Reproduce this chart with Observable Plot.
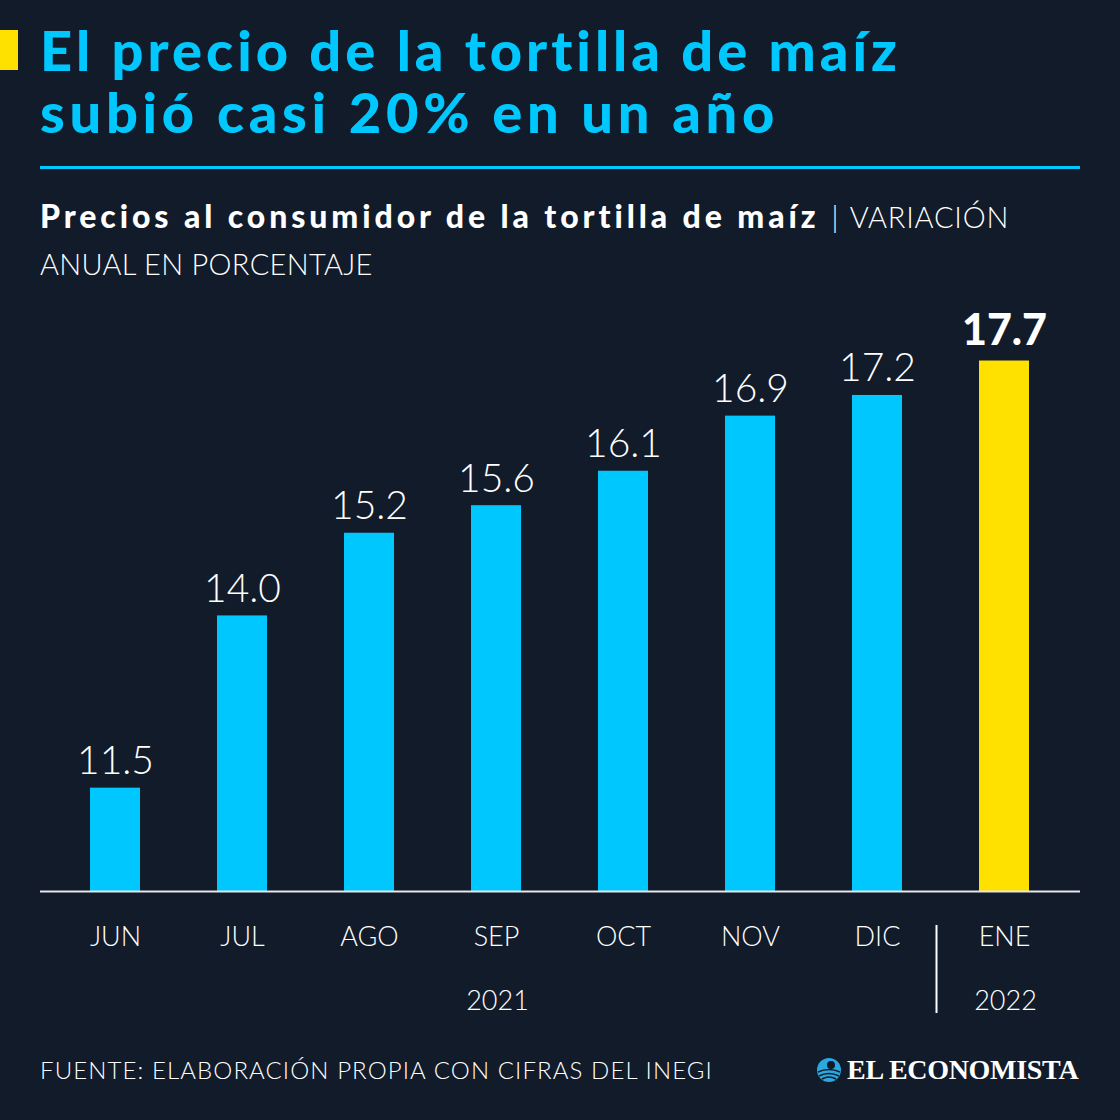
<!DOCTYPE html>
<html>
<head>
<meta charset="utf-8">
<script src="https://cdn.jsdelivr.net/npm/d3@7"></script>
<script src="https://cdn.jsdelivr.net/npm/@observablehq/plot@0.6"></script>
<style>
  html, body { margin: 0; padding: 0; }
  body { width: 1120px; height: 1120px; background: #111b2a; position: relative; overflow: hidden; font-family: Lato, "Noto Sans", sans-serif; }
  .abs { position: absolute; }
  #mark { left: 0; top: 30px; width: 18px; height: 40px; background: #ffe100; }
  .title { left: 40px; color: #00c8ff; font-weight: 900; font-size: 56px; line-height: 62px; height: 62px; white-space: nowrap; }
  #t1 { top: 19px; letter-spacing: 4px; }
  #t2 { top: 81px; letter-spacing: 4.7px; }
  #rule { left: 40px; top: 166px; width: 1040px; height: 3px; background: #00c8ff; }
  #sub { left: 40px; top: 193px; width: 1075px; color: #fff; font-size: 31px; line-height: 46px; white-space: nowrap; }
  #sub b { font-weight: 900; font-size: 32px; letter-spacing: 3.9px; }
  #sub .light { font-weight: 300; font-size: 29px; letter-spacing: 0.3px; }
  #sub .bar { margin-left: 12px; margin-right: 11px; }
  #sub .var { letter-spacing: 0.8px; }
  #chart { left: 0; top: 290px; }
  #foot { left: 40px; top: 1055px; color: #fff; font-weight: 300; font-size: 24px; letter-spacing: 1.1px; }
  #logo { left: 816px; top: 1054px; color: #fff; font-family: "Liberation Serif", "DejaVu Serif", serif; font-weight: 700; font-size: 28px; letter-spacing: -0.3px; display: flex; align-items: center; gap: 5px; }
</style>
</head>
<body>
<div class="abs" id="mark"></div>
<div class="abs title" id="t1">El precio de la tortilla de maíz</div>
<div class="abs title" id="t2">subió casi 20% en un año</div>
<div class="abs" id="rule"></div>
<div class="abs" id="sub"><b>Precios al consumidor de la tortilla de maíz</b><span class="light"><span class="bar">|</span><span class="var">VARIACIÓN</span><br>ANUAL EN PORCENTAJE</span></div>
<div class="abs" id="chart"></div>
<div class="abs" id="foot">FUENTE: ELABORACIÓN PROPIA CON CIFRAS DEL INEGI</div>
<div class="abs" id="logo"><svg width="26" height="26" viewBox="0 0 26 26"><circle cx="13" cy="13" r="12" fill="#2aa8e0"/><path d="M2 15 Q13 10 24 15 M3 19 Q13 14 23 19 M6 22 Q13 18 20 22" stroke="#111b2a" stroke-width="1.6" fill="none"/><circle cx="15" cy="8" r="4" fill="#111b2a"/></svg><span>EL ECONOMISTA</span></div>
<script>
const meses = ["JUN", "JUL", "AGO", "SEP", "OCT", "NOV", "DIC", "ENE"];
const valores = [11.5, 14.0, 15.2, 15.6, 16.1, 16.9, 17.2, 17.7];
const anios = [{mes: "SEP", anio: "2021"}, {mes: "ENE", anio: "2022"}];
const destacado = "ENE";

const data = meses.map((m, i) => ({mes: m, valor: valores[i]}));

const chart = Plot.plot({
  width: 1120,
  height: 750,
  marginLeft: 51.5,
  marginRight: 52.5,
  marginTop: 15.4,
  marginBottom: 149,
  style: {background: "transparent", color: "#fff", fontFamily: "Lato, 'Noto Sans', sans-serif"},
  x: {domain: meses, paddingInner: 0.606, paddingOuter: 0.303, label: null},
  y: {domain: [10, 18.5], axis: null},
  marks: [
    Plot.barY(data, {x: "mes", y1: 10, y2: "valor", fill: d => d.mes === destacado ? "#ffe100" : "#00c8ff"}),
    Plot.ruleY([10], {stroke: "#e6e6e6", strokeWidth: 2, insetLeft: -11.5, insetRight: -12.5}),
    Plot.text(data.filter(d => d.mes !== destacado), {x: "mes", y: "valor", text: d => d.valor.toFixed(1), dy: -14, lineAnchor: "bottom", fill: "#fff", fontSize: 39, fontWeight: 300}),
    Plot.text(data.filter(d => d.mes === destacado), {x: "mes", y: "valor", text: d => d.valor.toFixed(1), dy: -16, lineAnchor: "bottom", fill: "#fff", fontSize: 43, fontWeight: 900}),
    Plot.axisX({tickSize: 0, tickPadding: 35, fontSize: 27, fontWeight: 300, fill: "#fff", label: null}),
    Plot.text(anios, {x: "mes", text: "anio", frameAnchor: "bottom", dy: 110, dx: 1, lineAnchor: "middle", fill: "#fff", fontSize: 27, fontWeight: 300}),
    Plot.ruleX([destacado], {dx: -68, stroke: "#fff", strokeWidth: 2, insetTop: 619.6, insetBottom: -122})
  ]
});
document.getElementById("chart").appendChild(chart);
</script>
</body>
</html>
